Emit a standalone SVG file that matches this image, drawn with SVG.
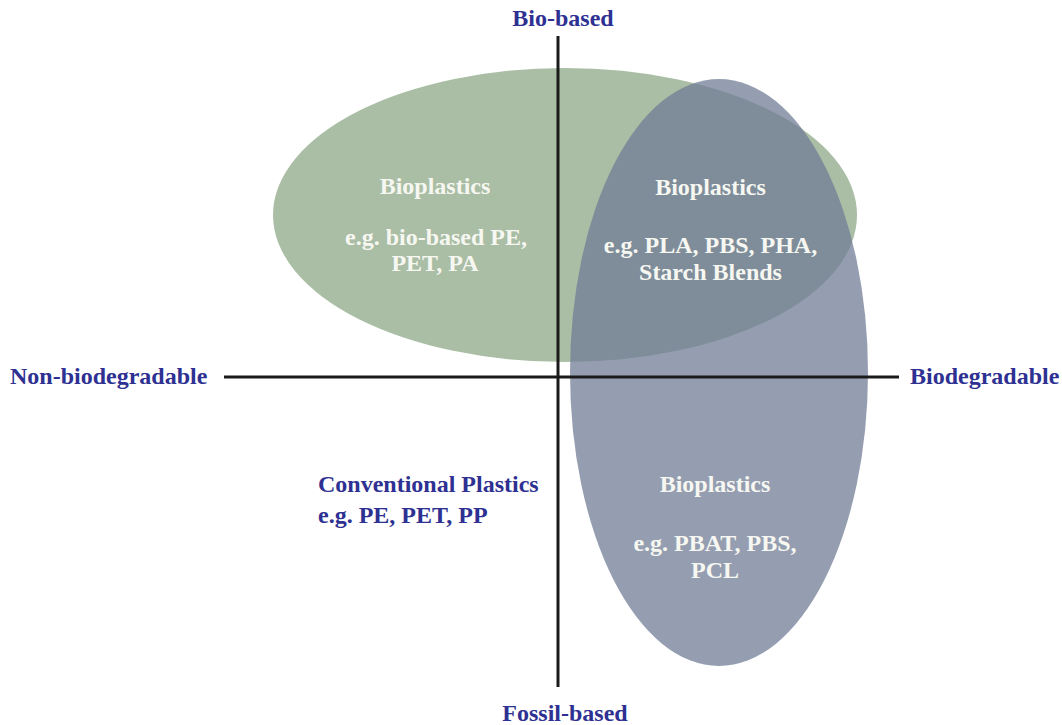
<svg xmlns="http://www.w3.org/2000/svg" width="1062" height="725" viewBox="0 0 1062 725">
  <style>
    .axis-label { font-family: "Liberation Serif", "Times New Roman", serif; font-weight: bold; font-size: 24px; fill: #2e3192; }
    .inner { font-family: "Liberation Serif", "Times New Roman", serif; font-weight: bold; font-size: 24px; fill: #f7f7f2; text-anchor: middle; }
    .axis { stroke: #1a1a1a; stroke-width: 3; fill: none; }
  </style>
  <rect width="1062" height="725" fill="#ffffff"/>

  <!-- bio-based, non-biodegradable set -->
  <g id="node-biobased">
    <ellipse cx="565" cy="215" rx="292" ry="147" fill="#a9bea5"/>
  </g>

  <!-- biodegradable set, drawn translucent over the green one -->
  <g id="node-biodegradable">
    <ellipse cx="719" cy="372.5" rx="149" ry="293.5" fill="#6e7c95" fill-opacity="0.74"/>
  </g>

  <!-- quadrant axes -->
  <g id="connectors">
    <line class="axis" x1="558" y1="36" x2="558" y2="687"/>
    <line class="axis" x1="224" y1="377" x2="899" y2="377"/>
  </g>

  <g id="label-top">
    <text class="axis-label" x="563" y="26" text-anchor="middle">Bio-based</text>
  </g>
  <g id="label-bottom">
    <text class="axis-label" x="565" y="721" text-anchor="middle">Fossil-based</text>
  </g>
  <g id="label-left">
    <text class="axis-label" x="10" y="384">Non-biodegradable</text>
  </g>
  <g id="label-right">
    <text class="axis-label" x="910" y="384">Biodegradable</text>
  </g>

  <g id="node-bio-nonbio-text">
    <text class="inner" x="435" y="194">Bioplastics</text>
    <text class="inner" x="436" y="245">e.g. bio-based PE,</text>
    <text class="inner" x="435" y="271">PET, PA</text>
  </g>

  <g id="node-bio-bio-text">
    <text class="inner" x="710.5" y="195">Bioplastics</text>
    <text class="inner" x="710.5" y="253">e.g. PLA, PBS, PHA,</text>
    <text class="inner" x="710.5" y="280">Starch Blends</text>
  </g>

  <g id="node-fossil-bio-text">
    <text class="inner" x="715" y="492">Bioplastics</text>
    <text class="inner" x="715" y="551">e.g. PBAT, PBS,</text>
    <text class="inner" x="715" y="578">PCL</text>
  </g>

  <g id="node-conventional">
    <text class="axis-label" x="318" y="492">Conventional Plastics</text>
    <text class="axis-label" x="318" y="523">e.g. PE, PET, PP</text>
  </g>
</svg>
